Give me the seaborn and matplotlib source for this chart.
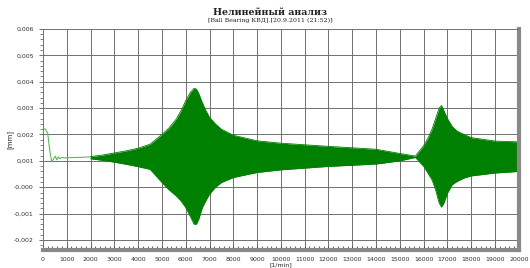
import matplotlib
matplotlib.use("Agg")
import matplotlib.pyplot as plt
import seaborn as sns
import pandas as pd
from matplotlib.ticker import MultipleLocator, AutoMinorLocator, FuncFormatter

# start-up transient (thin line)
rpm_start = [0, 100, 200, 300, 375, 450, 520, 580, 650, 720, 800, 900, 1000, 1500, 2000]
amp_start = [0.00222, 0.00220, 0.00205, 0.0013, 0.00096, 0.00108, 0.00118, 0.00104,
             0.00115, 0.00108, 0.00113, 0.00111, 0.00112, 0.00113, 0.00115]

# envelope of the dense oscillation
rpm_env = [2000, 2500, 3000, 3500, 4000, 4500, 5000, 5300, 5600, 5800, 6000, 6200, 6350,
           6450, 6550, 6700, 6850, 7000, 7250, 7500, 8000, 9000, 10000, 12000, 14000, 15000,
           15650, 16000, 16200, 16350, 16500, 16650, 16750, 16850, 17000, 17200, 17400,
           17700, 18000, 19000, 20000]
upper = [0.00116, 0.00122, 0.00130, 0.00138, 0.00148, 0.00163, 0.00200, 0.00225, 0.00258,
         0.00290, 0.00328, 0.00360, 0.00375, 0.00372, 0.00355, 0.00320, 0.00290, 0.00265,
         0.00240, 0.00220, 0.00197, 0.00176, 0.00167, 0.00155, 0.00144, 0.00128,
         0.00118, 0.00158, 0.00190, 0.00220, 0.00260, 0.00300, 0.00310, 0.00290, 0.00260,
         0.00230, 0.00213, 0.00200, 0.00188, 0.00175, 0.00172]
lower = [0.00108, 0.00102, 0.00095, 0.00087, 0.00078, 0.00068, 0.00018, -0.00010, -0.00033,
         -0.00052, -0.00077, -0.00112, -0.00140, -0.00140, -0.00120, -0.00077, -0.00050,
         -0.00026, 0.00000, 0.00018, 0.00037, 0.00056, 0.00066, 0.00079, 0.00088, 0.00100,
         0.00113, 0.00079, 0.00050, 0.00028, -0.00010, -0.00060, -0.00075, -0.00060,
         -0.00022, 0.00010, 0.00022, 0.00035, 0.00043, 0.00054, 0.00060]

start = pd.DataFrame({"rpm": rpm_start, "amp": amp_start})
env = pd.DataFrame({"rpm": rpm_env, "upper": upper, "lower": lower})

sns.set_style("white")
plt.rcParams['font.family'] = ['DejaVu Sans']

fig = plt.figure(figsize=(5.3, 2.68), dpi=100)
ax = fig.add_axes([0.081, 0.067, 0.898, 0.825])

sns.lineplot(data=start, x="rpm", y="amp", ax=ax, color="#5cb85c", linewidth=0.8)
ax.fill_between(env["rpm"], env["lower"], env["upper"], color="#008000", linewidth=0)
sns.lineplot(data=env, x="rpm", y="upper", ax=ax, color="#008000", linewidth=0.6)
sns.lineplot(data=env, x="rpm", y="lower", ax=ax, color="#008000", linewidth=0.6)

ax.set_xlim(0, 20000)
ax.set_ylim(-0.00238, 0.006)
ax.xaxis.set_major_locator(MultipleLocator(1000))
ax.xaxis.set_minor_locator(AutoMinorLocator(5))
ax.yaxis.set_major_locator(MultipleLocator(0.001))
ax.yaxis.set_minor_locator(AutoMinorLocator(5))
ax.grid(True, which="major", color="#707070", linewidth=0.7)

def yfmt(v, pos):
    s = "%.3f" % v
    if abs(v) < 1e-9:
        s = "-0.000"
    return s.replace(".", ",")

ax.yaxis.set_major_formatter(FuncFormatter(yfmt))
ax.tick_params(axis="both", which="major", labelsize=4.5, colors="#333333", length=3, width=0.5)
ax.tick_params(axis="y", which="minor", length=2, width=0.4, left=True)
ax.tick_params(axis="x", which="both", direction="in", bottom=True, length=3, width=0.5, pad=5)
ax.tick_params(axis="y", which="both", left=True)

for side in ["top", "left"]:
    ax.spines[side].set_color("#777777")
    ax.spines[side].set_linewidth(0.6)
ax.spines["bottom"].set_color("#888888")
ax.spines["bottom"].set_linewidth(3)
ax.spines["right"].set_color("#888888")
ax.spines["right"].set_linewidth(3)

ax.set_xlabel("[1/min]", fontsize=4.5, labelpad=0)
ax.set_ylabel("[mm]", fontsize=5)
ax.yaxis.set_label_coords(-0.062, 0.5)

fig.text(0.51, 0.955, "Нелинейный анализ", ha="center", va="center",
         fontsize=6.8, fontweight="bold", family="DejaVu Serif", color="#222222")
fig.text(0.51, 0.925, "[Ball Bearing КВД].[20.9.2011 (21:52)]", ha="center", va="center",
         fontsize=4.5, family="DejaVu Serif", color="#222222")

fig.savefig("out.png", dpi=100)
